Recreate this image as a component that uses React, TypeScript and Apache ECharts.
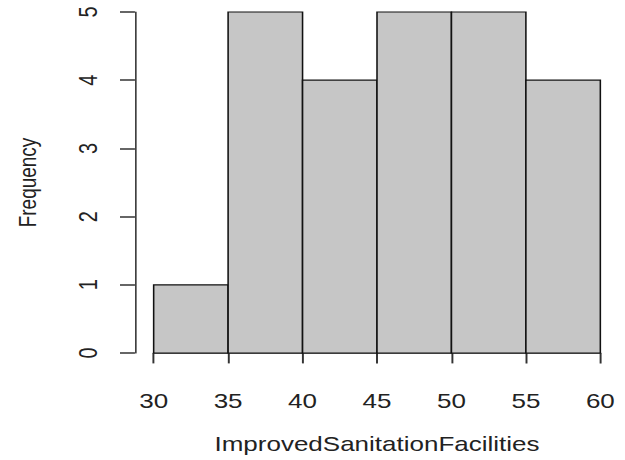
import React, { useEffect, useRef } from "react";
import * as echarts from "echarts";

const binStarts = [30, 35, 40, 45, 50, 55];
const binEnds = [35, 40, 45, 50, 55, 60];
const frequencies = [1, 5, 4, 5, 5, 4];
const xTitle = "ImprovedSanitationFacilities";
const yTitle = "Frequency";

const STRETCH = 1.3;
const FONT = "'Liberation Sans', Arial, sans-serif";

export default function App() {
  const ref = useRef<HTMLDivElement>(null);
  useEffect(() => {
    if (!ref.current) return;
    const chart = echarts.init(ref.current, undefined, { renderer: "svg" });
    const data = binStarts.map((s, i) => [s, binEnds[i], frequencies[i]]);
    chart.setOption({
      animation: false,
      backgroundColor: "#ffffff",
      textStyle: { fontFamily: FONT },
      grid: { left: 118.2, right: 19.2, top: 12, bottom: 107, containLabel: false },
      xAxis: {
        type: "value",
        min: 30,
        max: 60,
        interval: 5,
        offset: 14,
        name: xTitle,
        nameLocation: "middle",
        nameGap: 67,
        nameTextStyle: { fontSize: 20, color: "#222", fontFamily: FONT },
        splitLine: { show: false },
        axisLine: { show: true, lineStyle: { color: "#333", width: 1.5 } },
        axisTick: { show: true, length: 10.4, lineStyle: { color: "#333", width: 1.5 } },
        axisLabel: { fontSize: 20, color: "#222", margin: 24, fontFamily: FONT },
      },
      yAxis: {
        type: "value",
        min: 0,
        max: 5,
        interval: 1,
        offset: 14.4,
        name: yTitle,
        nameLocation: "middle",
        nameRotate: 90,
        nameGap: 73,
        nameTextStyle: { fontSize: 19, color: "#222", fontFamily: FONT },
        splitLine: { show: false },
        axisLine: { show: true, lineStyle: { color: "#333", width: 1.2 } },
        axisTick: { show: true, length: 11.5, lineStyle: { color: "#333", width: 1.5 } },
        axisLabel: { fontSize: 20, color: "#222", rotate: 90, margin: 26, fontFamily: FONT },
      },
      series: [
        {
          type: "custom",
          encode: { x: [0, 1], y: 2 },
          data,
          renderItem: (params: any, api: any) => {
            const lo = api.value(0);
            const hi = api.value(1);
            const v = api.value(2);
            const p0 = api.coord([lo, 0]);
            const p1 = api.coord([hi, v]);
            return {
              type: "rect",
              shape: { x: p0[0], y: p1[1], width: p1[0] - p0[0], height: p0[1] - p1[1] },
              style: { fill: "#c6c6c6", stroke: "#111", lineWidth: 1.2 },
            };
          },
        },
      ],
    });
    return () => chart.dispose();
  }, []);
  return (
    <div
      ref={ref}
      style={{
        position: "absolute",
        left: 0,
        top: 0,
        width: 625 / STRETCH,
        height: 460,
        transform: `scaleX(${STRETCH})`,
        transformOrigin: "0 0",
      }}
    />
  );
}
